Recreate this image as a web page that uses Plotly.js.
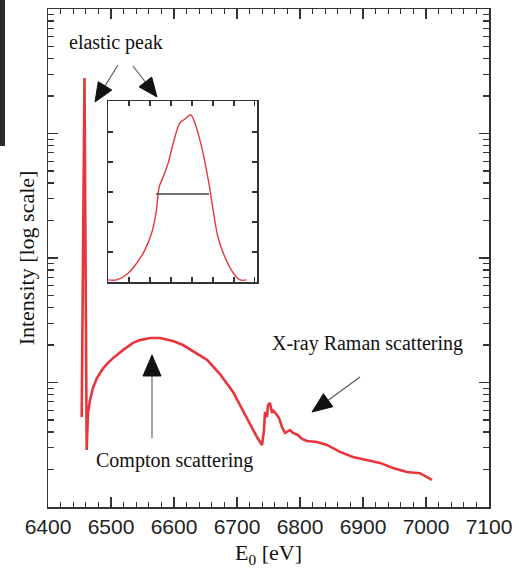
<!DOCTYPE html>
<html>
<head>
<meta charset="utf-8">
<script src="https://cdn.plot.ly/plotly-3.0.1.min.js"></script>
<style>html,body{margin:0;padding:0;background:#fff;}#chart{width:519px;height:575px;}</style>
</head>
<body>
<div id="chart"></div>
<script>
// Main spectrum: energy [eV] and intensity (arbitrary units, log scale)
const energy = [6453.5, 6457.9, 6461.4, 6463.5, 6466.7, 6471.4, 6477.8, 6485.7, 6493.7, 6503.2,
  6519.0, 6534.9, 6546.0, 6561.9, 6577.8, 6598.4, 6614.3, 6630.2, 6652.4, 6673.0,
  6693.7, 6704.8, 6720.6, 6731.7, 6739.7, 6742.9, 6744.4, 6747.6, 6749.2, 6752.4,
  6755.6, 6757.1, 6763.5, 6766.7, 6771.4, 6776.2, 6784.1, 6788.9, 6796.8, 6803.2,
  6811.1, 6827.0, 6842.9, 6863.5, 6884.1, 6906.3, 6927.0, 6947.6, 6969.8, 6990.5,
  7001.6, 7009.5];
const intensity = [5.28, 2790, 2.87, 5.69, 7.23, 9.03, 10.9, 12.6, 14.1, 15.7,
  18.2, 20.8, 21.9, 22.8, 22.8, 21.5, 20.0, 17.9, 15.2, 11.7,
  8.39, 6.59, 4.64, 3.65, 3.15, 4.15, 5.79, 5.28, 6.59, 6.84,
  5.69, 6.01, 5.48, 5.19, 4.39, 3.93, 4.15, 3.93, 3.79, 3.52,
  3.39, 3.33, 3.15, 2.77, 2.52, 2.39, 2.26, 2.06, 1.91, 1.87,
  1.74, 1.65];

// Inset: elastic peak profile (arbitrary units)
const insetX = [0.0, 0.41, 0.97, 1.37, 1.76, 2.08, 2.29, 2.44, 2.63, 2.87, 3.11, 3.43, 3.67, 3.94,
  4.14, 4.46, 4.78, 5.01, 5.24, 5.57, 5.97, 6.29, 6.6];
const insetY = [0.07, 0.07, 0.3, 0.63, 1.07, 1.63, 2.3, 3.17, 3.5, 3.97, 4.63, 5.3, 5.43, 5.57,
  5.3, 4.5, 3.4, 2.4, 1.5, 0.83, 0.3, 0.07, 0.07];
const fwhmX = [2.29, 4.81];
const fwhmY = [2.93, 2.93];

const xTickVals = [6400, 6500, 6600, 6700, 6800, 6900, 7000, 7100];
const xTickText = ['6400', '6500', '6600', '6700', '6800', '6900', '7000', '7100'];

const labelElastic = 'elastic peak';
const labelCompton = 'Compton scattering';
const labelRaman = 'X-ray Raman scattering';

const red = '#e8363c';
const axisCol = '#333';
const serif = 'Liberation Serif, Times New Roman, serif';
const sans = 'Liberation Sans, Arial, sans-serif';

// plot-area geometry (px) used to place decorations in paper coordinates
const M = {l: 48, r: 30, t: 9, b: 68};
const W = 519 - M.l - M.r, H = 575 - M.t - M.b;
const px = v => (v - M.l) / W;
const py = v => (575 - M.b - v) / H;

const traces = [
  {x: energy, y: intensity, type: 'scatter', mode: 'lines', line: {color: red, width: 2.6},
   xaxis: 'x', yaxis: 'y', hoverinfo: 'skip'},
  {x: insetX, y: insetY, type: 'scatter', mode: 'lines', line: {color: red, width: 1.4, shape: 'spline'},
   xaxis: 'x2', yaxis: 'y2', hoverinfo: 'skip'},
  {x: fwhmX, y: fwhmY, type: 'scatter', mode: 'lines', line: {color: '#444', width: 1.5},
   xaxis: 'x2', yaxis: 'y2', hoverinfo: 'skip'}
];

// arrow: thin grey shaft + filled black head, given tail and tip in px
function arrowShapes(tx, ty, hx, hy, L, hw) {
  const dx = hx - tx, dy = hy - ty, d = Math.hypot(dx, dy);
  const ux = dx / d, uy = dy / d;
  const bx = hx - ux * L, by = hy - uy * L;
  const nx = -uy * hw, ny = ux * hw;
  return [
    {type: 'line', xref: 'paper', yref: 'paper', x0: px(tx), y0: py(ty), x1: px(bx), y1: py(by),
     line: {color: '#555', width: 1.1}, layer: 'above'},
    {type: 'path', xref: 'paper', yref: 'paper',
     path: 'M' + px(hx) + ',' + py(hy) + ' L' + px(bx + nx) + ',' + py(by + ny) +
           ' L' + px(bx - nx) + ',' + py(by - ny) + ' Z',
     fillcolor: '#111', line: {color: '#111', width: 1}, layer: 'above'}
  ];
}
function label(t, x, y) {
  return {xref: 'paper', yref: 'paper', x: px(x), y: py(y), text: t, showarrow: false,
    xanchor: 'center', yanchor: 'middle', font: {family: serif, size: 20, color: '#111'}};
}

const shapes = [].concat(
  arrowShapes(152, 438, 152, 355, 21, 9),
  arrowShapes(360, 377, 312, 412, 20, 8),
  arrowShapes(118, 65, 95, 102, 19, 8),
  arrowShapes(133, 66, 157, 97, 19, 8),
  [{type: 'rect', xref: 'paper', yref: 'paper', x0: px(0), x1: px(5), y0: py(146), y1: py(0),
    fillcolor: '#2b2b2b', line: {width: 0}, layer: 'above'}]
);

const layout = {
  width: 519, height: 575,
  margin: M,
  paper_bgcolor: '#fff', plot_bgcolor: '#fff',
  showlegend: false,
  xaxis: {
    range: [6400, 7100], tickvals: xTickVals, ticktext: xTickText,
    ticks: 'inside', ticklen: 10, tickwidth: 1.3, tickcolor: axisCol,
    minor: {dtick: 20, tick0: 6400, ticks: 'inside', ticklen: 5, tickwidth: 1.2, tickcolor: axisCol, showgrid: false},
    showline: true, linecolor: axisCol, linewidth: 1.5, mirror: 'ticks',
    showgrid: false, zeroline: false,
    tickfont: {family: sans, size: 21, color: '#222'},
    title: {text: 'E<sub>0</sub> [eV]', font: {family: serif, size: 22, color: '#111'}, standoff: 8}
  },
  yaxis: {
    type: 'log', range: [0, 4], dtick: 1,
    ticks: 'inside', ticklen: 10, tickwidth: 1.3, tickcolor: axisCol,
    minor: {dtick: 'D1', ticks: 'inside', ticklen: 6, tickwidth: 1.2, tickcolor: axisCol, showgrid: false},
    showticklabels: false,
    showline: true, linecolor: axisCol, linewidth: 1.5, mirror: 'ticks',
    showgrid: false, zeroline: false,
    title: {text: 'Intensity [log scale]', font: {family: serif, size: 22, color: '#111'}, standoff: 6}
  },
  xaxis2: {
    domain: [px(108), px(257)], anchor: 'y2', range: [0, 7.1], tick0: 0, dtick: 1,
    ticks: 'inside', ticklen: 5, tickwidth: 1.2, tickcolor: axisCol,
    showline: true, linecolor: axisCol, linewidth: 1.5, mirror: 'ticks',
    showticklabels: false, showgrid: false, zeroline: false
  },
  yaxis2: {
    domain: [py(282), py(101)], anchor: 'x2', range: [0, 6.03], tick0: 0, dtick: 1,
    ticks: 'inside', ticklen: 5, tickwidth: 1.2, tickcolor: axisCol,
    showline: true, linecolor: axisCol, linewidth: 1.5, mirror: 'ticks',
    showticklabels: false, showgrid: false, zeroline: false
  },
  annotations: [
    label(labelElastic, 116, 42),
    label(labelCompton, 174, 460),
    label(labelRaman, 367.5, 343)
  ],
  shapes: shapes
};

Plotly.newPlot('chart', traces, layout, {displayModeBar: false, staticPlot: true});
</script>
</body>
</html>
